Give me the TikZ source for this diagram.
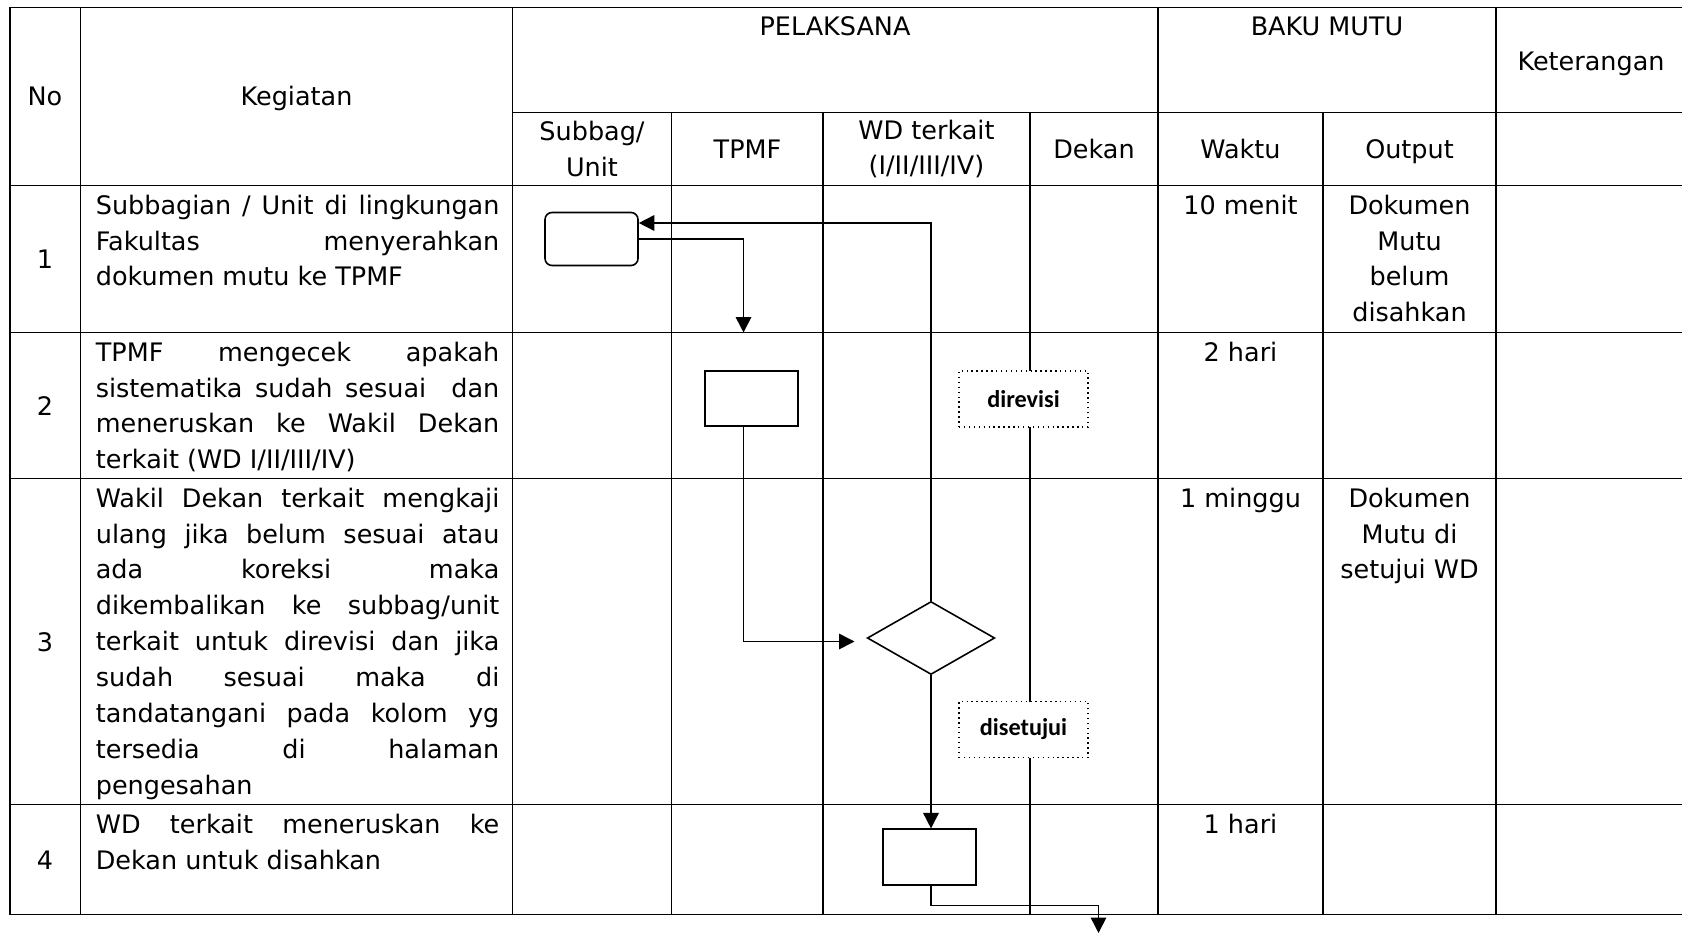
\documentclass[tikz,border=0pt]{standalone}
\usepackage{fontspec}
\setmainfont{DejaVu Sans}
\newfontfamily\notefont{Carlito}
\usetikzlibrary{arrows.meta,shapes.geometric}

\tikzstyle{myarrow}=[-{Triangle[length=0.31cm,width=0.31cm]}, line width=0.9pt]
\tikzstyle{table line}=[-, line width=1.1pt]
\tikzstyle{cell}=[inner sep=0pt, font=\fontsize{14.5}{20.4}\selectfont, align=center]
\tikzstyle{task}=[cell, anchor=north west, text width=8.07cm, align=justify, execute at begin node={\tolerance=10000\hyphenpenalty=10000}]
\tikzstyle{process}=[rectangle, draw=black, line width=0.9pt, minimum width=1.87cm, minimum height=1.11cm]
\tikzstyle{note box}=[rectangle, draw=black, dotted, line width=0.8pt, fill=white, minimum width=2.58cm, minimum height=1.12cm, font=\notefont\bfseries\fontsize{13.8}{16}\selectfont]

\begin{document}
\begin{tikzpicture}
    \useasboundingbox (0,0) rectangle (33.64,-18.74);

    % table
    \draw[table line] (33.64,-0.15) -- (0.20,-0.15) -- (0.20,-18.29) -- (33.64,-18.29);
    \draw[table line] (10.25,-2.25) -- (33.64,-2.25);
    \foreach \y in {-3.71,-6.65,-9.57,-16.09}
        \draw[table line] (0.20,\y) -- (33.64,\y);
    \foreach \x in {1.61,10.25,23.16,29.92}
        \draw[table line] (\x,-0.15) -- (\x,-18.29);
    \foreach \x in {13.43,16.46,20.60,26.46}
        \draw[table line] (\x,-2.25) -- (\x,-18.29);

    % header
    \node (no head) at (0.90,-2.12) [cell, anchor=base] {No};
    \node (kegiatan head) at (5.93,-2.12) [cell, anchor=base] {Kegiatan};
    \node (pelaksana head) at (16.70,-0.33) [cell, anchor=north] {PELAKSANA};
    \node (baku mutu head) at (26.54,-0.33) [cell, anchor=north] {BAKU MUTU};
    \node (keterangan head) at (31.82,-1.41) [cell, anchor=base] {Keterangan};
    \node (subbag head) at (11.84,-2.98) [cell] {Subbag/\\Unit};
    \node (tpmf head) at (14.95,-3.17) [cell, anchor=base] {TPMF};
    \node (wd head) at (18.53,-2.98) [cell] {WD terkait\\(I/II/III/IV)};
    \node (dekan head) at (21.88,-3.17) [cell, anchor=base] {Dekan};
    \node (waktu head) at (24.81,-3.17) [cell, anchor=base] {Waktu};
    \node (output head) at (28.19,-3.17) [cell, anchor=base] {Output};

    % rows
    \node (no 1) at (0.90,-5.37) [cell, anchor=base] {1};
    \node (no 2) at (0.90,-8.30) [cell, anchor=base] {2};
    \node (no 3) at (0.90,-13.02) [cell, anchor=base] {3};
    \node (no 4) at (0.90,-17.38) [cell, anchor=base] {4};

    \node (task 1) at (1.91,-3.89) [task] {Subbagian / Unit di lingkungan\linebreak Fakultas menyerahkan\linebreak dokumen mutu ke TPMF};
    \node (task 2) at (1.91,-6.83) [task] {TPMF mengecek apakah\linebreak sistematika sudah sesuai \ dan\linebreak meneruskan ke Wakil Dekan\linebreak terkait (WD I/II/III/IV)};
    \node (task 3) at (1.91,-9.75) [task] {Wakil Dekan terkait mengkaji\linebreak ulang jika belum sesuai atau\linebreak ada koreksi maka\linebreak dikembalikan ke subbag/unit\linebreak terkait untuk direvisi dan jika\linebreak sudah sesuai maka di\linebreak tandatangani pada kolom yg\linebreak tersedia di halaman\linebreak pengesahan};
    \node (task 4) at (1.91,-16.27) [task] {WD terkait meneruskan ke\linebreak Dekan untuk disahkan};

    \node (waktu 1) at (24.81,-3.89) [cell, anchor=north] {10 menit};
    \node (waktu 2) at (24.81,-6.83) [cell, anchor=north] {2 hari};
    \node (waktu 3) at (24.81,-9.75) [cell, anchor=north] {1 minggu};
    \node (waktu 4) at (24.81,-16.27) [cell, anchor=north] {1 hari};
    \node (output 1) at (28.19,-3.89) [cell, anchor=north] {Dokumen\\Mutu\\belum\\disahkan};
    \node (output 3) at (28.19,-9.75) [cell, anchor=north] {Dokumen\\Mutu di\\setujui WD};

    % flow
    \node (subbag box) at (11.83,-4.78) [rectangle, draw=black, line width=0.9pt, rounded corners=0.14cm, minimum width=1.86cm, minimum height=1.06cm] {};
    \node (tpmf box) at (15.03,-7.97) [process] {};
    \node (wd diamond) at (18.62,-12.76) [diamond, draw=black, line width=0.9pt, inner sep=0pt, minimum width=2.55cm, minimum height=1.46cm] {};
    \node (wd box) at (18.59,-17.14) [process] {};

    \coordinate (tpmf in) at (14.87,-6.65);
    \coordinate (diamond in) at (17.09,-12.83);
    \coordinate (dekan in) at (21.97,-18.66);

    \draw[myarrow] (subbag box.east) -| (tpmf in);
    \draw[myarrow] (wd diamond.north) |- ([yshift=0.32cm]subbag box.east);
    \draw[myarrow] (tpmf box.south -| tpmf in) |- (diamond in);
    \draw[myarrow] (wd diamond.south) -- (wd diamond.south |- wd box.north);
    \draw[myarrow] (wd box.south -| wd diamond.south) -- ++(0,-0.4) -| (dekan in);

    \node (direvisi) at (20.47,-7.98) [note box] {direvisi};
    \node (disetujui) at (20.47,-14.59) [note box] {disetujui};
\end{tikzpicture}
\end{document}
